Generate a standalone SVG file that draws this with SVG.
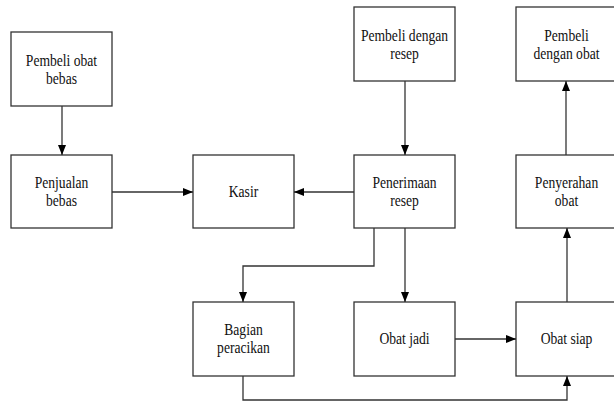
<svg xmlns="http://www.w3.org/2000/svg" width="614" height="404" viewBox="0 0 614 404">
  <style>
    .box { fill: #ffffff; stroke: #333333; stroke-width: 1.3; }
    .lbl { font-family: "Liberation Serif", "Times New Roman", serif; font-size: 16px; fill: #111111; text-anchor: middle; }
    .edge { fill: none; stroke: #333333; stroke-width: 1.3; }
  </style>
  <defs>
    <marker id="arrow" viewBox="0 0 10 8" refX="10" refY="4" markerWidth="10" markerHeight="8" markerUnits="userSpaceOnUse" orient="auto">
      <path d="M0,0 L10,4 L0,8 Z" fill="#000000"/>
    </marker>
  </defs>
  <rect width="614" height="404" fill="#ffffff"/>

  <g id="pembeli-obat-bebas">
    <rect class="box" x="11" y="32" width="101" height="74"/>
    <text class="lbl" transform="translate(61.5,66) scale(0.85,1)"><tspan x="0" y="0">Pembeli obat</tspan><tspan x="0" y="18">bebas</tspan></text>
  </g>
  <g id="penjualan-bebas">
    <rect class="box" x="11" y="155" width="101" height="73"/>
    <text class="lbl" transform="translate(61.5,188) scale(0.85,1)"><tspan x="0" y="0">Penjualan</tspan><tspan x="0" y="18">bebas</tspan></text>
  </g>
  <g id="kasir">
    <rect class="box" x="193" y="155" width="101" height="73"/>
    <text class="lbl" transform="translate(243.5,197) scale(0.85,1)">Kasir</text>
  </g>
  <g id="pembeli-dengan-resep">
    <rect class="box" x="354" y="7" width="101" height="74"/>
    <text class="lbl" transform="translate(404.5,41) scale(0.85,1)"><tspan x="0" y="0">Pembeli dengan</tspan><tspan x="0" y="18">resep</tspan></text>
  </g>
  <g id="penerimaan-resep">
    <rect class="box" x="354" y="155" width="101" height="73"/>
    <text class="lbl" transform="translate(404.5,188) scale(0.85,1)"><tspan x="0" y="0">Penerimaan</tspan><tspan x="0" y="18">resep</tspan></text>
  </g>
  <g id="pembeli-dengan-obat">
    <rect class="box" x="516" y="7" width="101" height="74"/>
    <text class="lbl" transform="translate(566.5,41) scale(0.85,1)"><tspan x="0" y="0">Pembeli</tspan><tspan x="0" y="18">dengan obat</tspan></text>
  </g>
  <g id="penyerahan-obat">
    <rect class="box" x="516" y="155" width="101" height="73"/>
    <text class="lbl" transform="translate(566.5,188) scale(0.85,1)"><tspan x="0" y="0">Penyerahan</tspan><tspan x="0" y="18">obat</tspan></text>
  </g>
  <g id="bagian-peracikan">
    <rect class="box" x="193" y="302" width="101" height="74"/>
    <text class="lbl" transform="translate(243.5,335) scale(0.85,1)"><tspan x="0" y="0">Bagian</tspan><tspan x="0" y="18">peracikan</tspan></text>
  </g>
  <g id="obat-jadi">
    <rect class="box" x="354" y="302" width="101" height="74"/>
    <text class="lbl" transform="translate(404.5,344) scale(0.85,1)">Obat jadi</text>
  </g>
  <g id="obat-siap">
    <rect class="box" x="516" y="302" width="101" height="74"/>
    <text class="lbl" transform="translate(566.5,344) scale(0.85,1)">Obat siap</text>
  </g>

  <g id="connectors">
    <path class="edge" d="M62,106 V155" marker-end="url(#arrow)"/>
    <path class="edge" d="M112,192 H193" marker-end="url(#arrow)"/>
    <path class="edge" d="M354,192 H294" marker-end="url(#arrow)"/>
    <path class="edge" d="M405,81 V155" marker-end="url(#arrow)"/>
    <path class="edge" d="M374,228 V266 H243 V302" marker-end="url(#arrow)"/>
    <path class="edge" d="M405,228 V302" marker-end="url(#arrow)"/>
    <path class="edge" d="M455,339 H516" marker-end="url(#arrow)"/>
    <path class="edge" d="M243,376 V400 H567 V376" marker-end="url(#arrow)"/>
    <path class="edge" d="M567,302 V228" marker-end="url(#arrow)"/>
    <path class="edge" d="M566,155 V81" marker-end="url(#arrow)"/>
  </g>
</svg>
